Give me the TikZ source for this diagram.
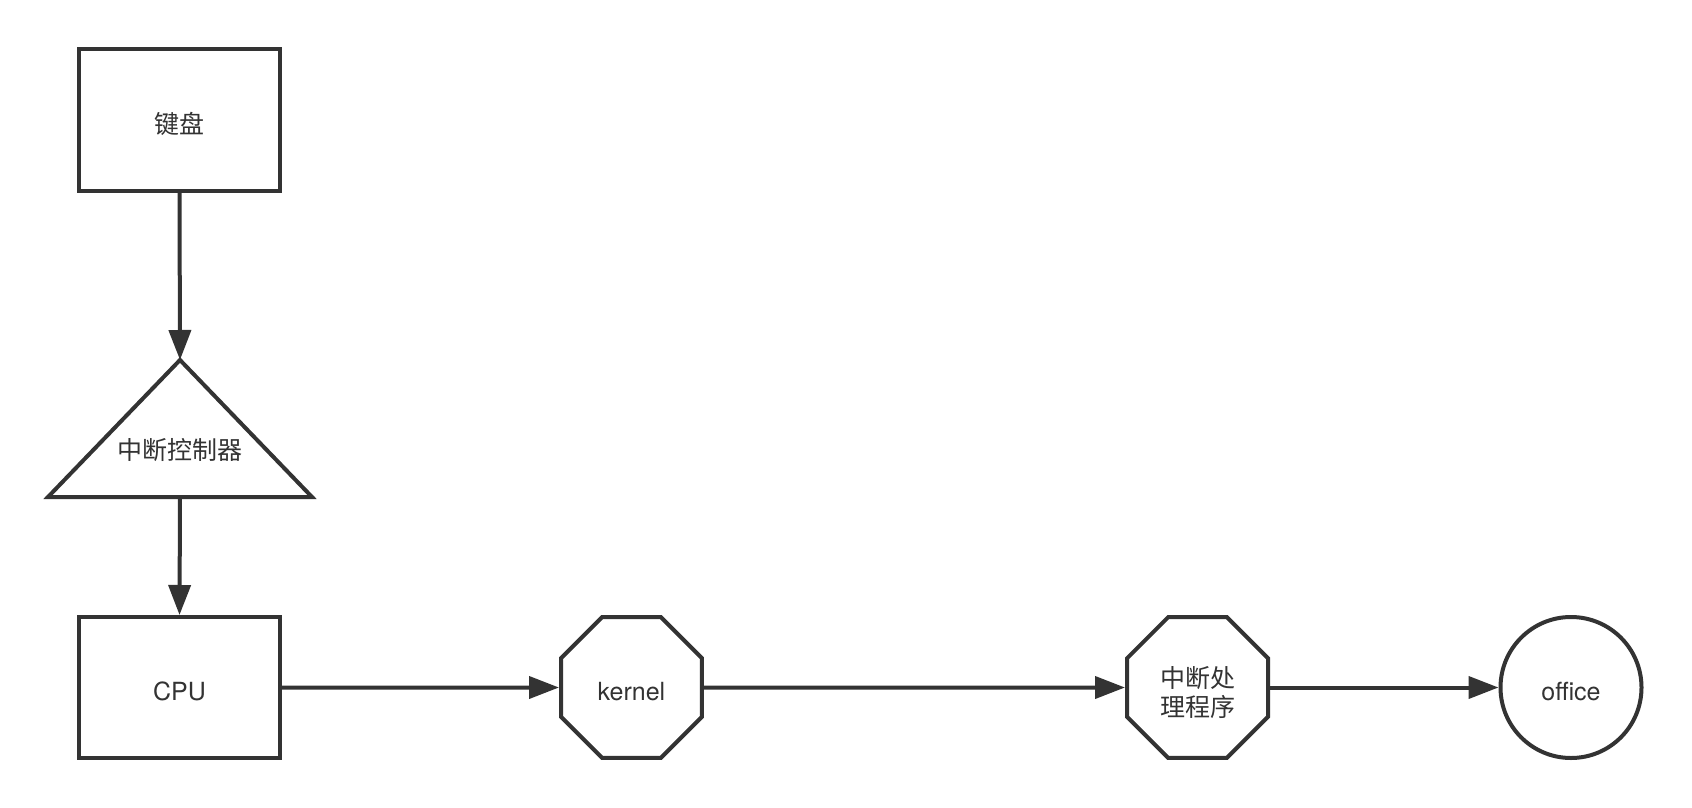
\documentclass[tikz,border=0pt]{standalone}
\usepackage{fontspec}
\setmainfont{TeX Gyre Heros}
\newfontfamily\cjk{Noto Sans CJK SC}
\usetikzlibrary{shapes.geometric,arrows.meta}
\definecolor{ink}{HTML}{333333}
\begin{document}
\begin{tikzpicture}[x=1pt,y=-1pt,
  every node/.style={text=ink},
  every label/.style={text=ink},
  lbl/.style={font=\fontsize{25}{30}\selectfont,text height=26pt,text depth=0pt},
  boxnode/.style={lbl,draw=ink,line width=4pt,minimum width=201pt,minimum height=141pt,inner sep=0pt},
  octnode/.style={draw=ink,line width=4pt,regular polygon,regular polygon sides=8,minimum size=152.6pt,inner sep=0pt},
  circnode/.style={lbl,draw=ink,line width=4pt,circle,minimum size=141pt,inner sep=0pt},
  arr/.style={draw=ink,line width=4pt,-{Triangle[length=30pt,width=22pt]}}
]
\useasboundingbox (0,0) rectangle (1692,808);
\node[boxnode] (kb) at (179.5,120) {\cjk 键盘};
\coordinate (apex) at (180,360);
\coordinate (bl) at (48,497);
\coordinate (br) at (312,497);
\coordinate (basemid) at (180,497);
\draw[draw=ink,line width=4pt,line join=miter] (apex) -- (br) -- (bl) -- cycle;
\node[lbl] (ic) at (180,446) {\cjk 中断控制器};
\node[boxnode] (cpu) at (179.5,687.5) {CPU};
\node[octnode,lbl] (kernel) at (631.5,687.5) {kernel};
\node[octnode,label={[align=center,inner sep=0pt,font=\fontsize{25}{30}\selectfont,yshift=-4.9pt]center:{\cjk 中断处\\[-1pt]\cjk 理程序}}] (handler) at (1197.5,687.5) {};
\node[circnode] (office) at (1571,687.5) {office};
\draw[arr] (kb.south) -- (apex);
\draw[arr] (basemid) -- (cpu.north);
\draw[arr] (cpu.east) -- (kernel.west);
\draw[arr] (kernel.east) -- (handler.west);
\draw[arr] (handler.east) -- (office.west);
\end{tikzpicture}
\end{document}
